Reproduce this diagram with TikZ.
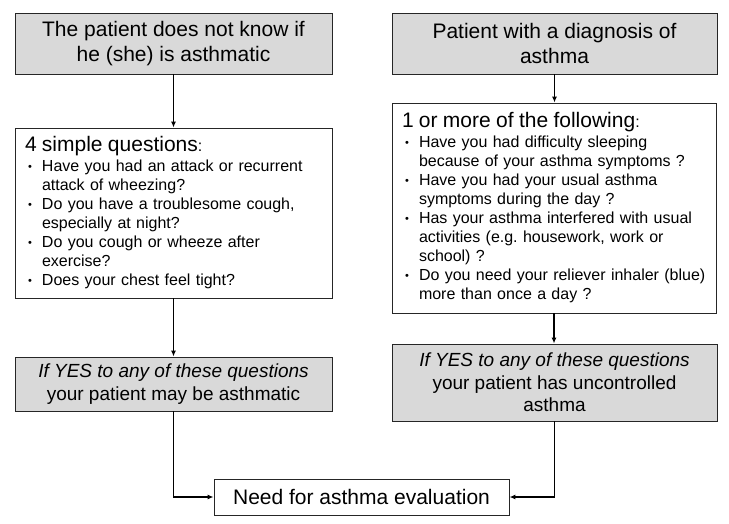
\documentclass[tikz,border=0pt]{standalone}
\usepackage{fontspec}
\setmainfont{Liberation Sans}
\usetikzlibrary{arrows.meta}
\newcommand{\qdot}{\raisebox{1pt}{\fontsize{11}{11}\selectfont\textbullet}}
\newcommand{\qitem}[1]{\par\hangindent=17pt\hangafter=1\noindent\makebox[17pt][l]{\hspace{3pt}\qdot}#1\par}
\newcommand{\qhead}[1]{{\fontsize{21}{25}\selectfont #1{\fontsize{16}{19}\selectfont:}\par}\vspace{1pt}}

\begin{document}
\begin{tikzpicture}[x=1pt,y=-1pt,
    headbox/.style={draw=black!85, line width=0.9pt, fill=gray!30, align=center,
      minimum height=61pt, inner sep=0pt, font=\fontsize{21}{25}\selectfont},
    listbox/.style={draw=black!85, line width=0.9pt, fill=white, inner xsep=10pt,
      inner ysep=0pt, align=left, font=\fontsize{16}{19}\selectfont},
    resultbox/.style={draw=black!85, line width=0.9pt, fill=gray!30, align=center,
      inner sep=0pt, font=\fontsize{19}{22.5}\selectfont},
    evalbox/.style={draw=black!85, line width=0.9pt, fill=white, align=center,
      inner sep=0pt, font=\fontsize{21}{25}\selectfont},
    flow/.style={line width=1.3pt, -{Latex[length=6pt,width=5pt]}}]
  \useasboundingbox (0,0) rectangle (729,524);
  % top boxes
  \node[headbox, minimum width=317pt] (unknown) at (173.5,43.5) {The patient does not know if\\he (she) is asthmatic};
  \node[headbox, minimum width=325pt] (known) at (554.5,43.5) {Patient with a diagnosis of\\asthma};
  % question lists
  \node[listbox, text width=297pt, minimum height=170pt] (simple) at (173.5,213) {%
    \qhead{4 simple questions}
    \qitem{Have you had an attack or recurrent\newline attack of wheezing?}
    \qitem{Do you have a troublesome cough,\newline especially at night?}
    \qitem{Do you cough or wheeze after\newline exercise?}
    \qitem{Does your chest feel tight?}};
  \node[listbox, text width=304pt, minimum height=210pt] (following) at (554,208) {%
    \qhead{1 or more of the following}
    \qitem{Have you had difficulty sleeping\newline because of your asthma symptoms ?}
    \qitem{Have you had your usual asthma\newline symptoms during the day ?}
    \qitem{Has your asthma interfered with usual\newline activities (e.g.\ housework, work or\newline school) ?}
    \qitem{Do you need your reliever inhaler (blue)\newline more than once a day ?}};
  % results
  \node[resultbox, minimum width=317pt, minimum height=54pt] (maybe) at (173.5,384) {\textit{If YES to any of these questions}\\your patient may be asthmatic};
  \node[resultbox, minimum width=325pt, minimum height=77pt] (uncontrolled) at (554.5,382.5) {\textit{If YES to any of these questions}\\your patient has uncontrolled\\asthma};
  \node[evalbox, minimum width=295pt, minimum height=36pt] (eval) at (361.5,497) {Need for asthma evaluation};
  % connectors
  \draw[flow] (unknown.south) -- (simple.north);
  \draw[flow] (known.south) -- (known.south |- following.north);
  \draw[flow] (simple.south) -- (maybe.north);
  \draw[flow] (following.south) -- (following.south |- uncontrolled.north);
  \draw[flow] (maybe.south) |- (eval.west);
  \draw[flow] (uncontrolled.south) |- (eval.east);
\end{tikzpicture}
\end{document}
